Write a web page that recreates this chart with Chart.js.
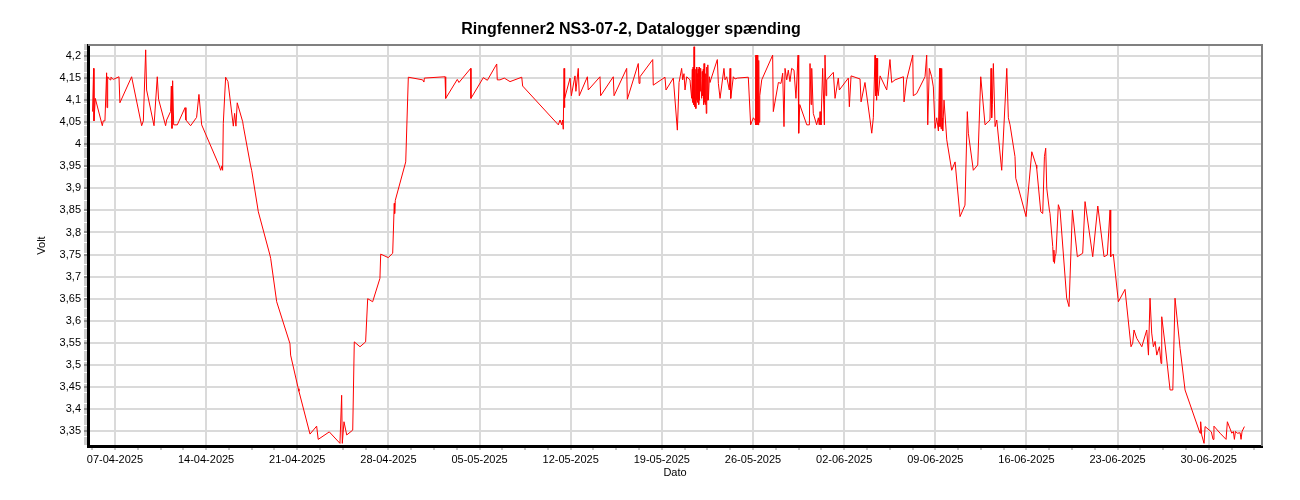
<!DOCTYPE html>
<html>
<head>
<meta charset="utf-8">
<title>Ringfenner2 NS3-07-2, Datalogger spænding</title>
<script src="https://cdn.jsdelivr.net/npm/chart.js@4.4.1/dist/chart.umd.min.js"></script>
<style>
  html, body { margin: 0; padding: 0; background: #fff; }
</style>
</head>
<body>
<canvas id="chart" width="1300" height="500"></canvas>
<script>
// Datalogger spænding — one red voltage trace, days counted from 07-04-2025 00:00.

const TITLE = 'Ringfenner2 NS3-07-2, Datalogger spænding';
const Y_TITLE = 'Volt';
const X_TITLE = 'Dato';

// weekly date ticks (day offset -> label)
const TICK_DAYS = [0, 7, 14, 21, 28, 35, 42, 49, 56, 63, 70, 77, 84];
const TICK_LABELS = [
  '07-04-2025', '14-04-2025', '21-04-2025', '28-04-2025', '05-05-2025',
  '12-05-2025', '19-05-2025', '26-05-2025', '02-06-2025', '09-06-2025',
  '16-06-2025', '23-06-2025', '30-06-2025',
];

// axis ranges
const X_MIN = -2.07, X_MAX = 88.09, X_MINOR = 1.75;
const Y_MIN = 3.316, Y_MAX = 4.225, Y_MINOR = 0.005;

// readings: day offset (10 per row) ...
const DAYS = [
  -1.72, -1.64, -1.61, -1.51, -0.97, -0.90, -0.77, -0.64, -0.61, -0.56,
  -0.38, -0.31, -0.13, 0.31, 0.38, 1.28, 2.05, 2.18, 2.36, 2.43,
  3.00, 3.25, 3.35, 3.89, 3.97, 4.27, 4.33, 4.38, 4.43, 4.51,
  4.79, 5.38, 5.45, 5.81, 6.27, 6.45, 6.66, 8.01, 8.12, 8.22,
  8.27, 8.32, 8.50, 8.68, 9.09, 9.19, 9.29, 9.39, 9.81, 9.86,
  10.42, 10.50, 11.01, 11.90, 11.96, 12.42, 13.44, 13.49, 14.08, 14.13,
  14.98, 15.49, 15.61, 16.46, 17.28, 17.41, 17.46, 17.59, 17.80, 18.26,
  18.38, 18.82, 19.25, 19.41, 19.79, 20.35, 20.41, 20.99, 21.33, 21.45,
  21.48, 21.53, 22.33, 22.53, 23.63, 23.73, 23.76, 25.35, 25.40, 26.29,
  26.42, 27.32, 27.34, 28.29, 28.60, 29.32, 29.36, 29.57, 29.90, 30.34,
  31.24, 31.31, 34.05, 34.18, 34.31, 34.38, 34.43, 34.49, 34.51, 34.56,
  34.95, 35.05, 35.33, 35.40, 35.58, 35.66, 36.28, 36.35, 37.25, 37.30,
  38.27, 38.33, 39.30, 39.35, 40.19, 40.25, 40.32, 41.30, 41.34, 42.24,
  42.32, 42.88, 43.19, 43.32, 43.52, 43.60, 43.70, 43.78, 43.91, 44.16,
  44.29, 44.34, 44.37, 44.40, 44.43, 44.47, 44.50, 44.53, 44.56, 44.60,
  44.62, 44.66, 44.69, 44.72, 44.76, 44.79, 44.83, 44.86, 44.89, 44.93,
  44.97, 45.00, 45.06, 45.10, 45.14, 45.18, 45.21, 45.24, 45.27, 45.31,
  45.34, 45.37, 45.41, 45.45, 45.49, 45.53, 45.57, 45.65, 45.70, 45.78,
  46.26, 46.34, 46.47, 46.77, 46.85, 46.98, 47.18, 47.24, 47.29, 47.49,
  47.62, 47.80, 48.64, 48.82, 49.03, 49.16, 49.20, 49.23, 49.26, 49.29,
  49.32, 49.35, 49.38, 49.41, 49.44, 49.47, 49.52, 49.67, 50.51, 50.56,
  50.95, 51.15, 51.28, 51.38, 51.46, 51.59, 51.71, 51.84, 51.97, 52.15,
  52.30, 52.46, 52.51, 52.59, 53.13, 53.33, 53.38, 53.46, 53.51, 53.63,
  53.89, 54.02, 54.09, 54.15, 54.22, 54.35, 54.48, 54.53, 54.61, 54.66,
  55.17, 55.30, 55.55, 55.63, 56.32, 56.40, 56.53, 57.22, 57.30, 57.60,
  57.99, 58.12, 58.24, 58.37, 58.41, 58.45, 58.49, 58.53, 58.57, 58.62,
  58.76, 59.27, 59.52, 59.65, 59.91, 60.55, 60.60, 60.80, 61.27, 61.31,
  61.57, 62.21, 62.34, 62.42, 62.54, 62.72, 62.85, 62.98, 63.11, 63.24,
  63.33, 63.36, 63.40, 63.44, 63.49, 63.53, 63.57, 63.67, 63.88, 64.26,
  64.52, 64.90, 65.28, 65.46, 65.54, 65.92, 66.26, 66.49, 66.82, 67.20,
  67.28, 67.33, 67.38, 67.46, 67.59, 67.72, 68.10, 68.49, 68.61, 68.74,
  69.12, 69.18, 69.97, 70.41, 70.74, 70.79, 71.10, 71.25, 71.38, 71.48,
  71.56, 71.76, 71.81, 72.02, 72.07, 72.11, 72.15, 72.20, 72.27, 72.45,
  72.58, 73.09, 73.27, 73.53, 73.91, 74.32, 74.50, 75.09, 75.48, 75.96,
  76.21, 76.42, 76.47, 76.67, 77.06, 77.57, 78.03, 78.16, 78.26, 78.47,
  78.86, 79.24, 79.37, 79.49, 79.62, 79.75, 79.88, 80.01, 80.21, 80.34,
  80.39, 80.65, 81.03, 81.24, 81.41, 81.80, 82.18, 83.33, 83.38, 83.46,
  83.64, 83.72, 84.20, 84.33, 84.40, 84.87, 85.33, 85.43, 85.77, 85.89,
  85.97, 86.05, 86.20, 86.41, 86.48, 86.56, 86.74,
];

// ... and volt, same rows
const VOLT = [
  4.074, 4.172, 4.053, 4.104, 4.042, 4.053, 4.053, 4.162, 4.083, 4.153,
  4.146, 4.152, 4.147, 4.153, 4.094, 4.153, 4.042, 4.053, 4.214, 4.123,
  4.042, 4.153, 4.102, 4.042, 4.055, 4.074, 4.132, 4.036, 4.144, 4.044,
  4.044, 4.083, 4.055, 4.042, 4.061, 4.113, 4.044, 3.951, 3.941, 3.951,
  3.941, 4.047, 4.152, 4.142, 4.041, 4.070, 4.041, 4.094, 4.051, 4.041,
  3.951, 3.941, 3.847, 3.749, 3.741, 3.643, 3.548, 3.522, 3.446, 3.440,
  3.343, 3.361, 3.331, 3.348, 3.322, 3.431, 3.322, 3.371, 3.341, 3.352,
  3.552, 3.541, 3.552, 3.650, 3.643, 3.696, 3.751, 3.743, 3.753, 3.866,
  3.843, 3.873, 3.960, 4.152, 4.146, 4.141, 4.150, 4.153, 4.104, 4.147,
  4.140, 4.172, 4.104, 4.151, 4.145, 4.182, 4.146, 4.146, 4.150, 4.142,
  4.152, 4.132, 4.044, 4.055, 4.044, 4.055, 4.034, 4.172, 4.083, 4.104,
  4.150, 4.110, 4.155, 4.120, 4.172, 4.110, 4.153, 4.123, 4.153, 4.110,
  4.153, 4.110, 4.172, 4.102, 4.183, 4.138, 4.153, 4.192, 4.134, 4.152,
  4.123, 4.150, 4.032, 4.140, 4.172, 4.146, 4.160, 4.123, 4.153, 4.146,
  4.104, 4.170, 4.095, 4.175, 4.090, 4.221, 4.085, 4.165, 4.110, 4.170,
  4.081, 4.175, 4.100, 4.160, 4.095, 4.170, 4.090, 4.175, 4.100, 4.172,
  4.120, 4.150, 4.104, 4.165, 4.110, 4.170, 4.090, 4.183, 4.095, 4.165,
  4.090, 4.160, 4.070, 4.175, 4.100, 4.180, 4.100, 4.153, 4.140, 4.148,
  4.192, 4.138, 4.104, 4.172, 4.146, 4.153, 4.123, 4.172, 4.104, 4.153,
  4.148, 4.150, 4.152, 4.044, 4.060, 4.055, 4.202, 4.044, 4.202, 4.044,
  4.202, 4.044, 4.202, 4.044, 4.190, 4.050, 4.110, 4.146, 4.202, 4.074,
  4.140, 4.138, 4.161, 4.040, 4.172, 4.146, 4.168, 4.142, 4.172, 4.168,
  4.104, 4.202, 4.025, 4.090, 4.044, 4.044, 4.183, 4.090, 4.172, 4.070,
  4.044, 4.060, 4.044, 4.074, 4.044, 4.172, 4.044, 4.202, 4.110, 4.146,
  4.163, 4.104, 4.150, 4.123, 4.150, 4.085, 4.155, 4.148, 4.096, 4.140,
  4.055, 4.025, 4.060, 4.202, 4.110, 4.195, 4.100, 4.195, 4.120, 4.110,
  4.155, 4.123, 4.192, 4.140, 4.146, 4.153, 4.096, 4.146, 4.202, 4.110,
  4.115, 4.153, 4.202, 4.044, 4.172, 4.153, 4.130, 4.036, 4.060, 4.030,
  4.172, 4.040, 4.172, 4.035, 4.172, 4.060, 4.030, 4.100, 4.010, 3.941,
  3.960, 3.836, 3.862, 4.074, 4.025, 3.941, 3.953, 4.153, 4.044, 4.055,
  4.172, 4.060, 4.090, 4.183, 4.040, 4.055, 3.941, 4.172, 4.060, 4.044,
  3.972, 3.923, 3.836, 3.983, 3.953, 3.945, 3.847, 3.843, 3.972, 3.991,
  3.900, 3.851, 3.843, 3.768, 3.734, 3.760, 3.730, 3.745, 3.753, 3.863,
  3.851, 3.651, 3.632, 3.851, 3.745, 3.753, 3.870, 3.745, 3.860, 3.745,
  3.749, 3.851, 3.745, 3.751, 3.643, 3.671, 3.541, 3.549, 3.579, 3.560,
  3.541, 3.579, 3.522, 3.651, 3.572, 3.541, 3.553, 3.522, 3.541, 3.503,
  3.609, 3.545, 3.443, 3.443, 3.651, 3.537, 3.443, 3.345, 3.371, 3.341,
  3.322, 3.360, 3.348, 3.331, 3.361, 3.345, 3.331, 3.371, 3.345, 3.349,
  3.331, 3.349, 3.345, 3.346, 3.331, 3.349, 3.360,
];

const FONT = "'Liberation Sans', Arial, sans-serif";

const isMajorX = v => Math.abs(v / 7 - Math.round(v / 7)) < 1e-6;
const isMajorY = v => Math.abs(v * 20 - Math.round(v * 20)) < 1e-6;

function fmtVolt(v) {
  return String(+v.toFixed(2)).replace('.', ',');
}

// gray frame on top and right side of the plot
const frame = {
  id: 'frame',
  beforeDatasetsDraw(chart) {
    const { ctx, chartArea: a } = chart;
    ctx.save();
    ctx.strokeStyle = '#808080';
    ctx.lineWidth = 2;
    ctx.beginPath();
    ctx.moveTo(a.left, a.top);
    ctx.lineTo(a.right, a.top);
    ctx.lineTo(a.right, a.bottom);
    ctx.stroke();
    ctx.restore();
  },
};

new Chart(document.getElementById('chart'), {
  type: 'line',
  data: {
    datasets: [{
      label: 'Datalogger spænding',
      data: DAYS.map((d, i) => ({ x: d, y: VOLT[i] })),
      borderColor: '#ff0000',
      borderWidth: 1,
      pointRadius: 0,
      tension: 0,
      fill: false,
    }],
  },
  options: {
    responsive: false,
    animation: false,
    events: [],
    layout: { padding: { left: 0, right: 38, top: 0, bottom: 0 } },
    plugins: {
      legend: { display: false },
      tooltip: { enabled: false },
      title: {
        display: true,
        text: TITLE,
        color: '#000',
        font: { family: FONT, size: 16, weight: 'bold' },
        padding: { top: 20, bottom: 5.8 },
      },
    },
    scales: {
      x: {
        type: 'linear',
        min: X_MIN,
        max: X_MAX,
        afterBuildTicks: scale => {
          const t = [];
          for (let k = Math.ceil(X_MIN / X_MINOR); k * X_MINOR <= X_MAX; k++) t.push({ value: k * X_MINOR });
          scale.ticks = t;
        },
        afterFit: scale => { scale.height = 54; },
        ticks: {
          autoSkip: false,
          maxRotation: 0,
          minRotation: 0,
          padding: 3,
          color: '#000',
          font: { family: FONT, size: 11 },
          callback: v => {
            const i = TICK_DAYS.indexOf(v);
            return i >= 0 ? TICK_LABELS[i] : '';
          },
        },
        grid: {
          color: c => (c.tick && isMajorX(c.tick.value) ? '#dadada' : 'rgba(0,0,0,0)'),
          lineWidth: 2,
          tickColor: '#8a8a8a',
          tickWidth: 1,
          tickLength: 4,
        },
        border: { display: true, color: '#000', width: 3 },
        title: {
          display: true,
          text: X_TITLE,
          color: '#000',
          font: { family: FONT, size: 11 },
          padding: { top: 0, bottom: 20 },
        },
      },
      y: {
        type: 'linear',
        min: Y_MIN,
        max: Y_MAX,
        afterBuildTicks: scale => {
          const t = [];
          for (let i = Math.ceil(Y_MIN / Y_MINOR - 1e-9); i * Y_MINOR <= Y_MAX + 1e-9; i++) {
            t.push({ value: Math.round(i * Y_MINOR * 1000) / 1000 });
          }
          scale.ticks = t;
        },
        afterFit: scale => { scale.width = 88; },
        ticks: {
          autoSkip: false,
          padding: 3,
          color: '#000',
          font: { family: FONT, size: 11 },
          callback: v => (isMajorY(v) ? fmtVolt(v) : ''),
        },
        grid: {
          color: c => (c.tick && isMajorY(c.tick.value) ? '#dadada' : 'rgba(0,0,0,0)'),
          lineWidth: 2,
          tickColor: c => (c.tick && isMajorY(c.tick.value) ? '#222' : '#999'),
          tickWidth: 1,
          tickLength: 4,
        },
        border: { display: true, color: '#000', width: 3 },
        title: {
          display: true,
          text: Y_TITLE,
          color: '#000',
          font: { family: FONT, size: 11 },
          padding: { top: 35, bottom: 0 },
        },
      },
    },
  },
  plugins: [frame],
});
</script>
</body>
</html>
